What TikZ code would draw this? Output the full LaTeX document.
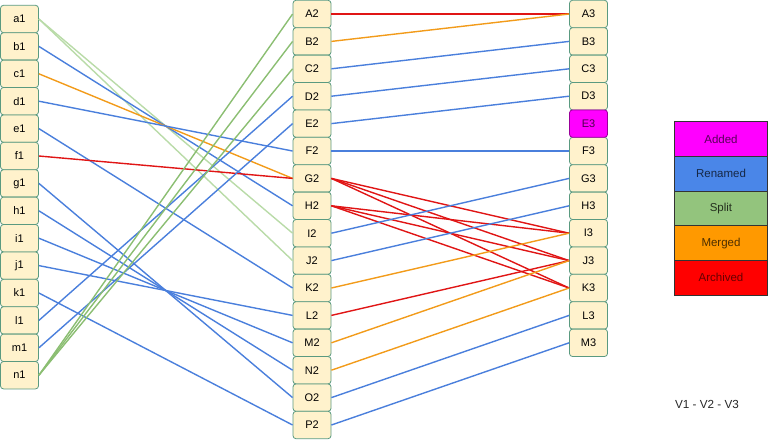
\documentclass[tikz,border=0pt]{standalone}
\usepackage{fontspec}
\setmainfont{Liberation Sans}
\definecolor{boxfill}{HTML}{FFF2CC}
\definecolor{boxline}{HTML}{5A9A80}
\definecolor{cblue}{HTML}{4A7FDC}
\definecolor{cgreen}{HTML}{8BBE72}
\definecolor{clgreen}{HTML}{B9DBA8}
\definecolor{corange}{HTML}{F29B1A}
\definecolor{cred}{HTML}{E01515}
\definecolor{lgadded}{HTML}{FF00FF}
\definecolor{lgrenamed}{HTML}{4A86E8}
\definecolor{lgsplit}{HTML}{93C47D}
\definecolor{lgmerged}{HTML}{FF9900}
\definecolor{lgarchived}{HTML}{FF0000}
\begin{document}
\begin{tikzpicture}[x=1pt,y=-1pt,
  item/.style={draw=boxline, fill=boxfill, rounded corners=3pt, minimum width=38pt, minimum height=27.4pt, inner sep=0pt, font=\fontsize{11}{13}\selectfont, line width=0.8pt},
  con/.style={line width=1.4pt},
  rn/.style={con, cblue},
  sp/.style={con, cgreen},
  spl/.style={con, clgreen},
  mg/.style={con, corange},
  ar/.style={con, cred},
  legend/.style={draw=black!80, line width=0.6pt, minimum width=93.5pt, minimum height=34.7pt, inner sep=0pt, font=\fontsize{11.5}{13}\selectfont}
]
\useasboundingbox (0,0) rectangle (768,440);

% columns
\foreach \l [count=\i from 0] in {a,b,c,d,e,f,g,h,i,j,k,l,m,n}
  \node[item] (\l1) at (19.5,19+\i*27.4) {\l1};
\foreach \l [count=\i from 0] in {A,B,C,D,E,F,G,H,I,J,K,L,M,N,O,P}
  \node[item] (\l2) at (312,14+\i*27.4) {\l2};
\foreach \l [count=\i from 0] in {A,B,C,D}
  \node[item] (\l3) at (588.5,14+\i*27.4) {\l3};
\foreach \l [count=\i from 5] in {F,G,H,I,J,K,L,M}
  \node[item] (\l3) at (588.5,14+\i*27.4) {\l3};
\node[item, fill=lgadded, draw=lgadded!60!black, text=black!70!lgadded] (E3) at (588.5,14+4*27.4) {E3};

% V1 -> V2
\draw[spl] (a1.east) -- (I2.west);
\draw[spl] (a1.east) -- (J2.west);
\draw[rn] (b1.east) -- (H2.west);
\draw[mg] (c1.east) -- (G2.west);
\draw[rn] (d1.east) -- (F2.west);
\draw[rn] (e1.east) -- (K2.west);
\draw[ar] (f1.east) -- (G2.west);
\draw[rn] (g1.east) -- (O2.west);
\draw[rn] (h1.east) -- (N2.west);
\draw[rn] (i1.east) -- (M2.west);
\draw[rn] (j1.east) -- (L2.west);
\draw[rn] (k1.east) -- (P2.west);
\draw[rn] (l1.east) -- (D2.west);
\draw[rn] (m1.east) -- (E2.west);
\draw[sp] (n1.east) -- (A2.west);
\draw[sp] (n1.east) -- (B2.west);
\draw[sp] (n1.east) -- (C2.west);

% V2 -> V3
\draw[ar] (A2.east) -- (A3.west);
\draw[mg] (B2.east) -- (A3.west);
\draw[rn] (C2.east) -- (B3.west);
\draw[rn] (D2.east) -- (C3.west);
\draw[rn] (E2.east) -- (D3.west);
\draw[rn] (F2.east) -- (F3.west);
\draw[ar] (G2.east) -- (I3.west);
\draw[ar] (G2.east) -- (J3.west);
\draw[ar] (G2.east) -- (K3.west);
\draw[ar] (H2.east) -- (I3.west);
\draw[ar] (H2.east) -- (J3.west);
\draw[ar] (H2.east) -- (K3.west);
\draw[rn] (I2.east) -- (G3.west);
\draw[rn] (J2.east) -- (H3.west);
\draw[mg] (K2.east) -- (I3.west);
\draw[ar] (L2.east) -- (J3.west);
\draw[mg] (M2.east) -- (J3.west);
\draw[mg] (N2.east) -- (K3.west);
\draw[rn] (O2.east) -- (L3.west);
\draw[rn] (P2.east) -- (M3.west);

% legend
\node[legend, fill=lgadded, text=black!65!lgadded] (lga) at (721,139) {Added};
\node[legend, fill=lgrenamed, text=black!70!lgrenamed] (lgr) at (721,173.7) {Renamed};
\node[legend, fill=lgsplit, text=black!75!lgsplit] (lgs) at (721,208.4) {Split};
\node[legend, fill=lgmerged, text=black!70!lgmerged] (lgm) at (721,243.1) {Merged};
\node[legend, fill=lgarchived, text=black!60!lgarchived] (lgx) at (721,277.8) {Archived};

\node[font=\fontsize{11.7}{14}\selectfont, text=black!85] (ver) at (707,404) {V1 - V2 - V3};
\end{tikzpicture}
\end{document}
